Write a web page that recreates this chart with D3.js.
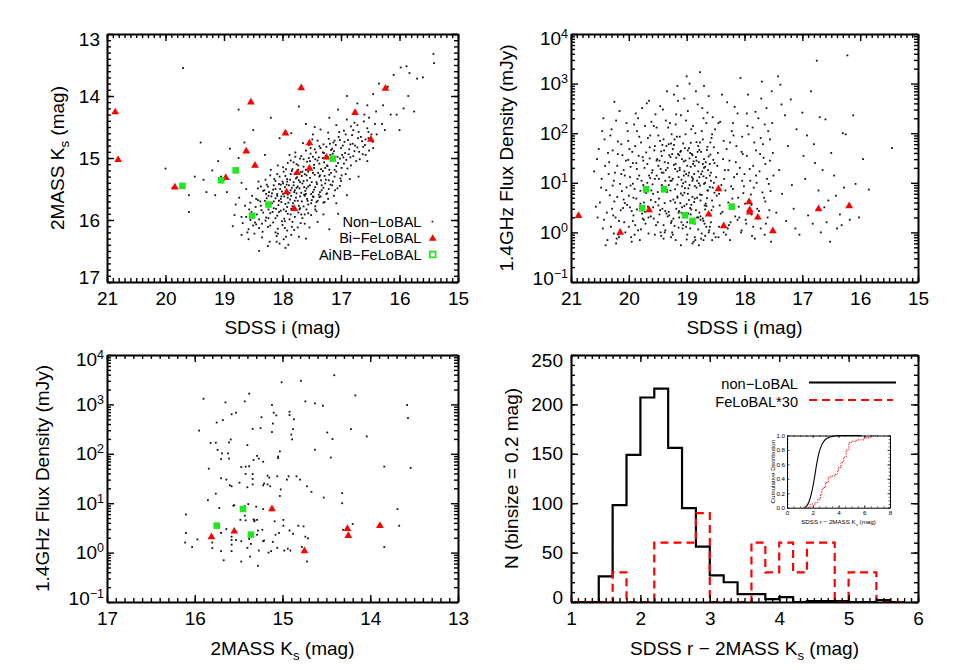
<!DOCTYPE html>
<html>
<head>
<meta charset="utf-8">
<script src="https://cdn.jsdelivr.net/npm/d3@7"></script>
<style>
  body { margin: 0; background: #fff; }
</style>
</head>
<body>
<svg id="fig" width="954" height="670"></svg>
<script>
// ---- data ----
// panel 1: SDSS i vs 2MASS Ks
var nonLobalIK = [
  [16.42,14.45],[16.55,14.52],[16.61,14.41],[16.70,14.58],[16.83,14.49],[16.95,14.56],[17.08,14.47],[17.22,14.59],[16.48,14.62],[16.66,14.66],[16.77,14.43],[16.90,14.38],[17.35,14.54],[16.52,14.35],[16.58,14.70],[17.48,14.62],
  [16.46,14.74],[16.59,14.79],[16.71,14.68],[16.80,14.77],[16.88,14.71],[16.97,14.80],[17.04,14.66],[17.13,14.75],[17.21,14.69],[17.30,14.78],[17.40,14.72],[17.55,14.79],[16.64,14.73],[16.92,14.62],[17.09,14.79],[16.76,14.80],[17.65,14.76],[16.53,14.68],
  [16.52,14.88],[16.63,14.94],[16.72,14.83],[16.79,14.97],[16.86,14.86],[16.93,14.92],[17.00,14.84],[17.06,14.98],[17.12,14.89],[17.18,14.95],[17.25,14.82],[17.31,14.91],[17.38,14.99],[17.45,14.86],[17.52,14.93],[17.60,14.88],[17.68,14.97],[17.78,14.91],[16.98,14.95],[17.15,14.85],[17.35,14.84],[17.48,14.98],[16.69,14.90],[16.84,14.99],[17.88,14.95],[17.22,14.99],
  [16.74,15.05],[16.83,15.12],[16.91,15.03],[16.99,15.16],[17.05,15.08],[17.11,15.19],[17.17,15.02],[17.23,15.13],[17.29,15.07],[17.34,15.18],[17.40,15.04],[17.46,15.11],[17.52,15.17],[17.58,15.06],[17.64,15.14],[17.70,15.01],[17.76,15.10],[17.83,15.18],[17.91,15.08],[17.99,15.15],[18.08,15.12],[17.02,15.01],[17.20,15.19],[17.37,15.09],[17.55,15.00],[17.73,15.19],[17.27,15.16],[16.95,15.09],[17.60,15.19],[17.44,15.02],[17.86,15.04],
  [16.92,15.26],[17.01,15.33],[17.08,15.22],[17.14,15.38],[17.20,15.27],[17.26,15.35],[17.31,15.21],[17.37,15.30],[17.42,15.39],[17.48,15.24],[17.53,15.32],[17.59,15.28],[17.64,15.37],[17.69,15.23],[17.75,15.31],[17.81,15.39],[17.86,15.26],[17.92,15.34],[17.98,15.22],[18.05,15.30],[18.12,15.37],[18.21,15.28],[18.29,15.35],[17.17,15.24],[17.34,15.36],[17.50,15.39],[17.67,15.29],[17.84,15.21],[18.00,15.38],[17.45,15.27],[17.72,15.36],[17.28,15.29],[17.56,15.22],[17.95,15.29],[17.11,15.30],[17.79,15.25],
  [17.02,15.45],[17.10,15.52],[17.18,15.43],[17.24,15.57],[17.30,15.48],[17.36,15.55],[17.41,15.42],[17.46,15.51],[17.51,15.58],[17.56,15.46],[17.61,15.53],[17.66,15.41],[17.71,15.49],[17.76,15.57],[17.81,15.44],[17.86,15.52],[17.91,15.59],[17.96,15.47],[18.01,15.54],[18.06,15.42],[18.12,15.50],[18.18,15.57],[18.25,15.46],[18.33,15.53],[18.42,15.49],[17.21,15.50],[17.38,15.59],[17.53,15.44],[17.68,15.56],[17.84,15.48],[17.99,15.41],[18.15,15.44],[17.27,15.41],[17.44,15.47],[17.63,15.59],[17.79,15.52],[17.93,15.43],[18.09,15.58],[17.48,15.55],[17.74,15.46],[18.04,15.50],[18.28,15.58],[17.33,15.52],[17.59,15.49],[17.88,15.56],
  [17.22,15.66],[17.30,15.72],[17.37,15.63],[17.44,15.78],[17.50,15.68],[17.56,15.75],[17.62,15.61],[17.67,15.70],[17.72,15.77],[17.77,15.64],[17.82,15.73],[17.87,15.67],[17.92,15.79],[17.97,15.62],[18.02,15.71],[18.07,15.76],[18.12,15.65],[18.18,15.73],[18.24,15.61],[18.30,15.69],[18.37,15.77],[18.45,15.66],[18.55,15.72],[17.48,15.62],[17.64,15.78],[17.79,15.69],[17.95,15.74],[18.09,15.61],[18.22,15.78],[17.58,15.66],[17.85,15.61],[18.03,15.66],[17.40,15.69],[17.70,15.62],[18.15,15.70],[17.90,15.72],
  [17.42,15.86],[17.51,15.92],[17.59,15.83],[17.66,15.97],[17.73,15.88],[17.79,15.95],[17.85,15.82],[17.91,15.90],[17.97,15.98],[18.03,15.85],[18.09,15.93],[18.15,15.81],[18.21,15.89],[18.28,15.96],[18.36,15.84],[18.44,15.91],[18.53,15.87],[18.62,15.95],[17.70,15.81],[17.88,15.99],[18.06,15.87],[18.24,15.83],[17.62,15.91],[17.94,15.86],[18.12,15.97],[18.40,15.99],
  [17.62,16.06],[17.74,16.12],[17.83,16.03],[17.92,16.17],[18.00,16.08],[18.08,16.14],[18.16,16.04],[18.25,16.11],[18.34,16.19],[18.45,16.07],[18.58,16.15],[17.96,16.02],[18.12,16.20],[18.29,16.01],[17.80,16.16],[18.40,16.13],
  [17.85,16.24],[17.98,16.31],[18.10,16.26],[18.22,16.35],[18.35,16.28],[18.05,16.38],[17.72,16.27],[18.48,16.22],
  [17.33,15.44],[17.87,15.35],[18.19,15.62],[17.14,14.93],[17.71,15.83],[18.38,15.70],[17.46,15.16],[17.02,14.71],[18.01,16.02],[17.58,15.36],[17.25,15.58],[18.27,15.43],[17.81,15.07],[16.87,14.94],[17.69,16.05],[18.47,16.04],[17.39,15.24],[18.11,15.82],[17.52,14.84],[17.94,15.18],[16.99,15.28],[18.33,15.88],[17.63,15.47],[17.17,14.87],[18.06,15.69],[17.77,15.33],[17.42,15.71],[16.81,14.63],[18.21,16.09],[17.56,15.89],[17.08,15.13],[17.91,15.64],[18.41,15.38],[17.29,14.92],[17.84,16.11],[17.66,15.22],[16.94,14.74],[18.16,15.51],[17.47,15.63],[18.52,15.61],
  [17.21,15.36],[17.98,15.83],[17.37,14.81],[18.09,15.26],[16.77,14.89],[17.74,15.69],[18.24,15.97],[17.11,14.72],[17.60,15.58],[17.89,15.44],[18.35,16.06],[17.53,15.05],[17.06,15.49],[18.03,15.43],[17.68,15.91],[17.24,15.12],[18.46,15.79],[17.80,15.55],[16.96,14.99],[18.14,15.34],[17.35,15.62],[17.96,16.13],[17.49,14.70],[18.27,15.65],[17.15,15.44],[17.73,15.12],[18.57,15.83],[17.44,15.83],[17.03,14.58],[17.86,15.91],
  [18.20,15.19],[17.62,15.26],[16.89,15.17],[17.99,15.58],[18.31,15.52],[17.28,15.71],[17.78,14.98],[18.42,15.68],[17.57,15.69],[16.84,14.78],[18.08,16.22],[17.36,15.28],[17.92,15.38],[17.19,14.77],[18.50,16.09],[17.70,15.39],[17.12,15.61],[18.17,15.87],[17.64,15.02],[17.83,15.78],[18.37,15.46],[17.43,14.91],[17.00,15.37],[18.02,15.62],[17.51,15.73],[16.79,14.55],[17.94,16.27],[18.23,15.55],[17.31,15.00],[17.76,15.48],
  [18.64,15.77],[18.58,16.31],[18.68,16.05],[16.62,14.82],[16.68,15.02],[16.85,15.34],[17.08,15.73],[17.30,15.91],[16.53,14.58],[16.39,14.62],[18.74,15.64],[18.82,15.92],[17.54,16.12],[17.40,16.03],[18.70,16.24],[16.58,14.95],[16.45,14.84],[18.25,16.42],[17.95,16.45],[16.72,14.47],
  [15.42,13.32],[15.41,13.47],[15.60,13.70],[15.83,13.63],[15.88,13.52],[15.98,13.54],[16.10,13.66],[16.20,13.85],[16.35,13.80],[16.28,14.15],[16.15,14.30],[16.05,14.30],[16.00,14.55],[15.93,14.20],[15.75,14.25],[15.85,14.00],[16.45,13.97],[16.55,14.15],[16.40,14.25],[16.60,14.30],[16.72,14.12],[16.90,14.00],[17.05,14.22],[17.20,14.35],[16.30,14.45],[16.25,14.55],[17.45,14.50],[17.60,14.45],[17.72,14.17],[15.70,13.72],
  [19.70,13.55],[18.75,14.22],[18.20,14.35],[18.50,14.55],[18.65,14.75],[18.90,14.85],[18.30,14.95],[18.05,14.68],[17.85,14.60],[19.40,14.75],[19.10,15.05],[19.20,15.20],[19.05,15.30],[19.35,15.35],[19.50,15.30],[20.00,15.17],[19.60,15.60],[19.88,15.48],[19.15,15.60],[19.60,15.87],[19.30,15.55],[18.95,15.55],[18.80,15.75],[18.85,16.10],[18.70,15.40],[18.75,15.00],[18.60,16.20],[18.40,16.50],[18.10,16.35],[17.90,16.40],[17.60,16.30],[17.20,16.15],[17.05,15.90],[16.90,15.60],[16.70,15.30],[16.55,15.05],[18.55,16.00],[18.62,15.50],[18.70,15.95],[19.00,15.35]
];
var biFeIK = [
  [20.86,14.26],[20.81,15.03],[19.84,15.47],[18.54,14.10],[17.68,13.87],[17.95,14.60],[18.62,14.89],[18.47,15.12],[18.97,15.32],
  [17.54,14.76],[16.76,14.27],[16.24,13.88],[16.49,14.70],[17.25,14.99],[17.75,15.24],[17.54,15.17],[17.93,15.55],[17.80,15.82]
];
var aiNBIK = [[19.71,15.45],[19.05,15.36],[18.80,15.20],[18.24,15.75],[18.52,15.93],[17.14,15.01]];

// panel 2: SDSS i vs 1.4GHz flux (mJy)
var nonLobalIF = [
  [20.55,30],[20.48,8],[20.42,75],[20.38,2.5],[20.35,15],[20.31,1.3],[20.28,45],[20.25,4.2],[20.22,180],[20.2,22],[20.18,0.9],[20.15,9.5],[20.13,60],[20.1,3.1],[20.08,1.6],[20.05,28],[20.02,110],[20.0,5.5],[19.98,13],[19.96,0.8],[19.94,42],[19.92,2.2],[19.9,7.5],[19.88,250],[19.86,19],[19.84,1.1],[19.82,85],[19.8,3.8],[19.78,11],[19.76,33],[19.74,1.8],[19.72,140],[19.7,6.2],[19.68,24],[19.66,0.95],[19.64,52],[19.62,4.5],[19.6,16],
  [20.45,1.2],[20.4,0.55],[20.33,5.6],[20.3,120],[20.26,11],[20.23,2.0],[20.19,38],[20.16,280],[20.12,6.8],[20.09,18],[20.06,1.0],[20.03,3.6],[20.01,70],[19.97,8.8],[19.95,2.7],[19.93,25],[19.91,150],[19.89,1.4],[19.87,4.8],[19.85,12],[19.83,35],[19.81,0.7],[19.79,65],[19.77,2.4],[19.75,9],[19.73,20],[19.71,1.5],[19.69,400],[19.67,3.3],[19.65,14],[19.63,90],[19.61,7],
  [20.5,4],[20.36,40],[20.21,0.75],[20.14,2.8],[20.07,14],[19.99,48],[19.92,5],[19.84,200],[19.76,1.9],[19.68,10],[20.6,17],[20.44,200],[20.29,3.0],[20.17,1.7],[20.04,8.1],[19.9,0.9],[19.75,28],[19.62,2.1],[20.22,0.6],[19.95,0.65],
  [20.57,3.3],[20.52,48],[20.47,12],[20.43,1.8],[20.39,7.1],[20.34,26],[20.32,90],[20.27,2.2],[20.24,16],[20.2,5.2],[20.17,0.8],[20.11,36],[20.07,3.9],[20.04,160],[20.0,1.3],[19.97,21],[19.93,9.6],[19.89,55],[19.86,2.9],[19.82,14],[19.79,1.15],[19.77,320],[19.73,6.6],[19.7,41],[19.66,2.0],[19.63,12.5],[19.61,170],
  [20.41,22],[20.37,0.7],[20.28,8.8],[20.19,68],[20.09,4.6],[20.01,29],[19.93,1.7],[19.86,110],[19.8,6.9],[19.72,2.6],[19.67,80],[20.54,2.0],[20.46,110],[20.26,0.95],[20.13,15],[19.98,3.2],[19.87,25],[19.74,4.0],[19.64,31],
  [19.58,3.2],[19.56,45],[19.55,12],[19.53,1.4],[19.52,130],[19.5,6.5],[19.49,22],[19.47,2.3],[19.46,70],[19.44,0.85],[19.43,9],[19.41,300],[19.4,16],[19.38,3.9],[19.37,1.1],[19.35,55],[19.34,7.2],[19.32,25],[19.31,2.6],[19.29,160],[19.28,11],[19.26,1.7],[19.25,38],[19.23,4.6],[19.22,600],[19.2,19],[19.19,0.7],[19.17,85],[19.16,5.3],[19.14,13],[19.13,2.0],[19.11,42],[19.1,230],[19.08,8.5],[19.07,1.2],[19.05,27],[19.04,3.4],[19.02,95],[19.01,15],[18.99,0.9],[18.98,6],[18.96,50],[18.95,1000],[18.93,21],[18.92,2.9],[18.9,11],[18.89,140],[18.87,4.1],[18.86,1.5],[18.84,33],[18.83,8],[18.81,380],[18.8,17],[18.78,2.5],[18.77,65],[18.75,0.75],[18.74,5.7],[18.72,24],[18.71,200],[18.69,3.5],[18.68,10],[18.66,1.3],[18.65,46],[18.63,7],[18.62,560],[18.6,14],[18.59,2.2],[18.57,80],[18.56,4.4],[18.54,29],[18.53,0.95],[18.51,120],
  [19.59,18],[19.57,1.9],[19.54,240],[19.51,30],[19.48,4.8],[19.45,1.0],[19.42,58],[19.39,8.2],[19.36,180],[19.33,2.1],[19.3,36],[19.27,0.8],[19.24,12],[19.21,75],[19.18,3.0],[19.15,450],[19.12,20],[19.09,1.6],[19.06,62],[19.03,7.8],[19.0,1400],[18.97,2.4],[18.94,40],[18.91,13],[18.88,0.65],[18.85,100],[18.82,5.0],[18.79,26],[18.76,1.8],[18.73,320],[18.7,9.5],[18.67,3.8],[18.64,53],[18.61,1.1],[18.58,16],[18.55,210],[18.52,6.3],
  [19.58,6],[19.55,0.9],[19.52,14],[19.49,90],[19.46,2.8],[19.43,35],[19.4,1.4],[19.37,11],[19.34,700],[19.31,60],[19.28,4.3],[19.25,1.0],[19.22,23],[19.19,150],[19.16,9.2],[19.13,2.7],[19.1,44],[19.07,5.6],[19.04,17],[19.01,1.3],[18.98,280],[18.95,31],[18.92,3.6],[18.89,12],[18.86,0.8],[18.83,66],[18.8,2.0],[18.77,8.8],[18.74,110],[18.71,1.7],[18.68,21],[18.65,4.9],[18.62,1.0],[18.59,37],[18.56,0.7],[18.53,10],
  [19.45,19],[19.38,26],[19.3,13],[19.24,48],[19.18,32],[19.12,18],[19.06,9.8],[19.02,28],[18.97,14],[18.93,64],[18.9,36],[18.86,22],[18.82,11],[18.78,46],[18.75,15],[18.7,30],[18.66,12.5],[18.6,24],[18.55,8],[19.2,7.4],[19.08,3.2],[18.96,4.5],[18.84,2.8],[18.72,1.9],[19.35,2.4],[19.27,1.55],[19.14,1.25],[19.0,0.72],[18.9,0.6],[18.8,1.15],[18.68,0.85],[18.58,1.6],[19.1,0.55],[19.4,0.75],
  [19.59,9.3],[19.57,140],[19.54,4.1],[19.52,28],[19.5,1.6],[19.48,12],[19.46,350],[19.44,43],[19.42,3.0],[19.4,75],[19.38,1.0],[19.36,18],[19.34,6.5],[19.32,130],[19.3,2.2],[19.28,33],[19.26,11],[19.24,0.9],[19.22,58],[19.2,4.0],[19.18,240],[19.16,17],[19.14,2.5],[19.12,85],[19.1,6.1],[19.08,30],[19.06,1.4],[19.04,500],[19.02,10.5],[19.0,3.7],[18.98,45],[18.96,16],[18.94,1.2],[18.92,120],[18.9,5.2],[18.88,27],[18.86,8.6],[18.84,700],[18.82,2.0],[18.8,55],[18.78,13],[18.76,4.4],[18.74,0.95],[18.72,75],[18.7,20],[18.68,2.9],[18.66,160],[18.64,7.0],[18.62,34],[18.6,1.3],[18.58,11],[18.56,95],[18.54,3.3],[18.52,25],[18.5,0.8],
  [19.55,55],[19.49,3.5],[19.43,16],[19.37,2.7],[19.31,9],[19.26,95],[19.21,1.35],[19.15,38],[19.11,3.9],[19.05,14],[19.01,180],[18.97,7.7],[18.93,2.3],[18.89,24],[18.85,0.7],[18.81,42],[18.77,5.8],[18.73,17],[18.69,1.5],[18.64,260],[18.6,8.2],[18.57,2.8],[18.53,52],
  [19.47,28],[19.39,45],[19.33,20],[19.27,62],[19.19,24],[19.13,36],[19.09,11.5],[19.03,50],[18.99,22],[18.95,9.0],[18.91,38],[18.87,15],[18.83,28],[18.79,9.8],[18.75,42],[18.71,13.5],[18.67,26],[18.63,18],[18.59,65],[19.28,7.0],[19.16,5.0],[19.04,6.3],[18.94,3.1],[18.86,4.8],[18.76,2.1],[18.66,3.4],[19.23,1.9],[19.09,2.5],[18.99,1.6],[18.87,1.9],[18.79,0.55],[18.71,0.7],
  [18.48,5.5],[18.46,40],[18.44,1.3],[18.42,170],[18.4,9],[18.38,2.6],[18.36,70],[18.34,18],[18.32,0.9],[18.3,420],[18.28,4.0],[18.26,28],[18.24,1.6],[18.22,110],[18.2,7.5],[18.18,13],[18.16,2.1],[18.14,55],[18.12,250],[18.1,3.3],[18.08,20],[18.06,1.0],[18.04,85],[18.02,6.2],[18.0,15],[17.98,1.8],[17.96,35],[17.94,600],[17.92,4.5],[17.9,11],[17.88,2.3],[17.86,130],[17.84,8],[17.82,0.75],[17.8,45],[17.78,3.0],[17.76,200],[17.74,17],[17.72,1.2],[17.7,1100],[17.68,60],[17.66,5.0],[17.64,24],[17.62,320],[17.6,2.0],[17.58,9.5],[17.56,75],[17.54,0.65],[17.52,160],[17.5,14],
  [18.47,22],[18.43,3.5],[18.39,600],[18.35,12],[18.31,48],[18.27,1.4],[18.23,8.5],[18.19,90],[18.15,26],[18.11,5.0],[18.07,1300],[18.03,38],[17.99,3.8],[17.95,140],[17.91,19],[17.87,0.85],[17.83,65],[17.79,10],[17.75,2.7],[17.71,500],[17.67,32],[17.63,1.5],[17.59,110],[17.55,6.8],[17.51,40],[18.45,0.8],[18.25,0.7],[18.05,1.1],[17.85,1.3],[17.65,0.9],
  [18.49,13],[18.45,160],[18.41,2.4],[18.37,30],[18.33,7.0],[18.29,1.2],[18.25,65],[18.21,4.8],[18.17,340],[18.13,15],[18.09,2.0],[18.05,42],[18.01,8.5],[17.97,1.5],[17.93,95],[17.89,5.8],[17.85,22],[17.81,270],[17.77,1.9],[17.73,38],[17.69,6.4],[17.65,150],[17.61,12],[17.57,2.8],[17.53,700],[18.44,6.0],[18.36,1.0],[18.28,18],[18.2,160],[18.12,1.8],[18.04,11],[17.96,250],[17.88,3.6],[17.8,14],[17.72,80],[17.64,4.2],[17.56,28],
  [17.45,2.5],[17.42,1400],[17.4,18],[17.38,950],[17.35,6],[17.3,230],[17.28,1.7],[17.25,55],[17.2,480],[17.18,9],[17.15,3.0],[17.1,120],[17.05,0.9],[17.0,260],[16.98,35],[16.95,12],[16.9,2.2],[16.85,700],[16.82,1.5],[16.8,60],[16.75,2900],[16.72,7],[16.7,210],[16.68,1.0],[16.65,18],[16.62,3.2],[16.6,190],[16.55,4.4],[16.52,0.65],[16.5,40],[16.45,14],[16.4,1.2],[16.35,2.3],[16.3,100],[16.28,8],[16.22,3700],[16.18,1.8],[16.12,230],[16.08,9.5],[16.02,2.0],[15.95,30],[15.85,7.3],[15.45,50],[17.36,380],[17.12,1.2],[16.92,90],[16.78,25],[16.58,1.6],[16.42,5.5],[16.32,1.4],[16.25,95],
  [18.77,1700],[19.16,900],[18.7,900],[19.65,450],[20.25,430]
];
var biFeIF = [
  [20.87,2.17],[20.15,1.0],[19.65,2.83],[18.45,7.5],[18.62,2.31],[18.36,1.35],[17.92,4.1],
  [17.91,2.83],[17.91,2.54],[17.77,2.01],[17.51,1.07],[16.72,2.96],[16.19,3.41]
];
var aiNBIF = [[19.70,7.4],[19.39,7.4],[19.77,3.06],[19.03,2.21],[18.90,1.70],[18.22,3.30]];

// panel 3: 2MASS Ks vs 1.4GHz flux (mJy)
var nonLobalKF = [
  [14.41,3900],[15.01,2800],[14.79,3000],[15.90,1300],[15.38,1650],[15.43,1150],[15.65,1100],[15.12,970],[14.74,1150],[14.63,1050],[14.54,940],[14.17,1520],[13.58,970],[13.57,530],[15.10,680],[15.07,600],[14.92,710],[14.92,610],[14.87,500],[15.24,550],[15.25,330],[15.34,320],[15.11,410],[15.12,276],[15.58,630],[15.53,680],[15.68,480],[15.75,430],[15.95,295],[15.59,195],[15.61,170],[15.82,165],[15.76,168],[15.74,120],[15.69,102],[15.62,102],[15.61,80],[15.70,78],[15.84,50],[15.40,150],
  [15.29,91],[15.27,80],[15.22,69],[15.33,75],[15.42,55],[15.38,56],[15.47,54],[15.42,39],[15.34,39],[15.15,33],[15.17,36],[15.06,35],[15.05,88],[15.03,112],[15.05,82],[14.90,245],[14.89,196],[14.88,315],[14.63,121],[14.49,270],[14.43,200],[14.45,84],[14.22,316],[14.04,225],[13.84,55],[13.54,52],
  [14.93,35],[14.84,35],[14.95,30],[14.80,30],[14.72,22],[14.67,17],[14.53,13],[14.32,16],[14.32,10],[15.02,19],[15.21,25],[15.22,23],[15.34,31],[15.40,21],[15.64,30],[15.60,23],[15.58,22],[15.70,32],[15.76,15.6],[15.85,11.5],[15.72,8],[15.56,8.9],[15.55,9.1],[15.39,9.6],
  [15.43,5.6],[15.48,4.6],[15.42,4.5],[15.32,4.5],[15.33,4.7],[15.22,7.6],[15.09,4.3],[14.99,3.5],[15.23,2.9],[15.28,2.8],[15.29,2.3],[15.22,1.7],[15.21,1.75],[15.11,1.65],[15.08,2.3],[15.04,2.5],[14.99,4.6],[14.92,2.8],[14.98,1.1],[14.91,1.1],[14.94,1.2],[15.06,1.25],[15.13,1.07],[15.16,1.0],[15.27,1.1],[15.36,1.5],[15.40,1.25],[15.47,1.7],[15.58,1.8],[15.58,1.45],[15.58,1.07],[15.70,1.07],[15.67,0.7],[15.47,0.66],[15.37,0.83],[15.28,0.54],
  [15.80,1.23],[15.80,1.6],[16.11,1.6],[16.10,2.5],[16.10,5.9],[15.97,1.85],[16.03,1.3],[15.70,2.5],[15.64,3.0],[15.58,2.1],[15.53,1.8],[15.38,1.9],[15.32,4.3],[14.82,3.5],[14.76,3.4],[14.74,2.1],[14.71,1.95],[14.72,0.66],[14.88,2.4],[14.78,1.3],[14.20,3.8],[14.31,2.9],[13.69,7.6],[13.67,3.5],[13.84,1.3],[15.43,8.7],[15.49,26],[15.30,8.5],[15.29,4.6],[15.17,24],[15.03,14],[15.14,22],[15.34,24]
];
var biFeKF = [[15.81,2.07],[15.55,2.69],[15.12,7.64],[14.75,1.08],[14.26,3.05],[14.25,2.20],[13.89,3.51]];
var aiNBKF = [[15.75,3.51],[15.45,7.64],[15.36,2.31]];

// panel 4: SDSS r - 2MASS Ks histograms, bin size 0.2
var binLeft = [1.0,1.2,1.4,1.6,1.8,2.0,2.2,2.4,2.6,2.8,3.0,3.2,3.4,3.6,3.8,4.0,4.2,4.4,4.6,4.8,5.0,5.2,5.4,5.6];
var nonLobalHist = [0,0,26,98,149,207,216,156,95,56,27,20,8,8,3,5,0,1,1,1,0,0,2,0];
var feLobalHist30 = [0,0,0,30,0,0,60,60,60,90,0,0,0,60,30,60,30,60,60,0,30,30,0,0];
// inset cumulative distributions
var cdfNon = [[1.3,0],[1.5,0.02],[1.7,0.08],[1.9,0.2],[2.1,0.38],[2.3,0.6],[2.5,0.77],[2.7,0.87],[2.9,0.93],[3.2,0.97],[3.6,0.99],[4.0,1.0],[5.0,1.0],[5.8,1.0]];
var cdfFe = [[1.65,0],[1.8,0.05],[2.2,0.07],[2.4,0.12],[2.6,0.18],[2.7,0.25],[2.8,0.28],[3.0,0.35],[3.2,0.42],[3.4,0.44],[3.7,0.46],[3.9,0.5],[4.0,0.56],[4.2,0.63],[4.4,0.7],[4.6,0.8],[4.8,0.9],[5.0,0.92],[5.4,0.94],[6.0,0.97],[6.5,1.0],[6.9,1.0]];

// tick labels
var iMagTicks = [21,20,19,18,17,16,15];
var ksTicksTop = [13,14,15,16,17];
var fluxExp = [-1,0,1,2,3,4];
var ksTicksBottom = [17,16,15,14,13];
var colorTicks = [1,2,3,4,5,6];
var countTicks = [0,50,100,150,200,250];
var insetXTicks = [0,2,4,6,8];
var insetYTicks = [0,0.2,0.4,0.6,0.8,1.0];

// ---- drawing ----
var FONT = "'Liberation Sans', Arial, Helvetica, sans-serif";
var RED = "#ff0000", GREEN = "#22e622";
var svg = d3.select("#fig");

function drawAxes(x, y, o){
  var xr = x.range(), yr = y.range();
  var left = Math.min(xr[0],xr[1]), right = Math.max(xr[0],xr[1]);
  var top = Math.min(yr[0],yr[1]), bot = Math.max(yr[0],yr[1]);
  var g = svg.append("g");
  var sides = [
    ["bottom", "translate(0,"+bot+")", true],
    ["top", "translate(0,"+top+")", false],
    ["left", "translate("+left+",0)", true],
    ["right", "translate("+right+",0)", false]
  ];
  function mk(side){
    return side=="bottom" ? d3.axisBottom(x) : side=="top" ? d3.axisTop(x) : side=="left" ? d3.axisLeft(y) : d3.axisRight(y);
  }
  sides.forEach(function(s){
    var isX = (s[0]=="bottom" || s[0]=="top");
    // minor ticks
    g.append("g").attr("transform", s[1])
      .call(mk(s[0]).tickValues(isX ? o.xMinor : o.yMinor).tickSize(-o.minorLen).tickSizeOuter(0).tickFormat(""))
      .call(function(a){ a.select(".domain").remove(); a.selectAll("line").attr("stroke-width", o.tickW); });
    // major ticks, labels and frame side
    var ax = mk(s[0]).tickValues(isX ? o.xMajor : o.yMajor).tickSize(-o.majorLen).tickSizeOuter(0)
      .tickPadding(isX ? o.xPad : o.yPad)
      .tickFormat(isX ? o.xFmt : o.yFmt);
    var a = g.append("g").attr("transform", s[1]).call(ax)
      .attr("font-family", FONT).attr("font-size", o.fs);
    a.select(".domain").attr("stroke-width", o.frameW);
    a.selectAll(".tick line").attr("stroke-width", o.tickW);
    if(!s[2]){ a.selectAll(".tick text").remove(); return; }
    if(!isX){
      a.selectAll(".tick text").attr("y", function(d){
        var p = y(d);
        return Math.abs(p-top)<0.5 ? o.edge : (Math.abs(p-bot)<0.5 ? -o.edge : 0);
      });
      if(o.yLog){
        a.selectAll(".tick text").each(function(d){
          var t = d3.select(this).text("");
          var e = Math.round(Math.log10(d));
          t.append("tspan").text("10");
          t.append("tspan").attr("dy","-0.55em").attr("font-size","0.66em").text(e<0 ? "\u2212"+(-e) : e);
        });
      }
    }
  });
  return g;
}

function addText(x, y, parts, fs, rot, anchor){
  var t = svg.append("text").attr("font-family", FONT).attr("font-size", fs)
    .attr("text-anchor", anchor || "middle");
  if(rot) t.attr("transform","translate("+x+","+y+") rotate(-90)");
  else t.attr("x", x).attr("y", y);
  parts.forEach(function(p){
    var s = t.append("tspan").text(p[0]);
    if(p[1]) s.attr("font-size", p[1]);
    if(p[2]) s.attr("dy", p[2]);
  });
  return t;
}
function ksParts(sz){ return [["2MASS K"],["s", sz*0.7, sz*0.28],[" (mag)", null, -sz*0.28]]; }

function dots(data, x, y){
  svg.append("g").selectAll("rect").data(data).join("rect")
    .attr("x", function(d){ return x(d[0])-0.9; })
    .attr("y", function(d){ return y(d[1])-0.9; })
    .attr("width", 1.8).attr("height", 1.8).attr("fill", "#111");
}
function triangles(data, x, y){
  svg.append("g").selectAll("path").data(data).join("path")
    .attr("d", d3.symbol(d3.symbolTriangle, 26))
    .attr("transform", function(d){ return "translate("+x(d[0])+","+y(d[1])+")"; })
    .attr("fill", RED);
}
function squares(data, x, y){
  svg.append("g").selectAll("rect").data(data).join("rect")
    .attr("x", function(d){ return x(d[0])-3.3; })
    .attr("y", function(d){ return y(d[1])-3.3; })
    .attr("width", 6.6).attr("height", 6.6).attr("fill", GREEN);
}

var FR = { tl:[107,458,34,282], tr:[571,918,34,282], bl:[107,458,355,602], br:[571,918,355,602] };
var tenths = function(a,b){ return d3.range(Math.round(a*10), Math.round(b*10)+1).map(function(v){ return v/10; }); };
var logMinor = [];
fluxExp.slice(0,-1).forEach(function(e){ d3.range(2,10).forEach(function(m){ logMinor.push(m*Math.pow(10,e)); }); });
var fluxTicks = fluxExp.map(function(e){ return Math.pow(10,e); });

var common = { majorLen:7, minorLen:4, tickW:1.4, frameW:2, fs:19, xPad:9.5, edge:5 };

// panel 1
var x1 = d3.scaleLinear().domain([21,15]).range([FR.tl[0],FR.tl[1]]);
var y1 = d3.scaleLinear().domain([13,17]).range([FR.tl[2],FR.tl[3]]);
dots(nonLobalIK, x1, y1);
triangles(biFeIK, x1, y1);
squares(aiNBIK, x1, y1);
drawAxes(x1, y1, Object.assign({}, common, { xMajor:iMagTicks, xMinor:tenths(15,21), yMajor:ksTicksTop, yMinor:tenths(13,17),
  xFmt:d3.format("d"), yFmt:d3.format("d"), yPad:7 }));
addText(282.5, 334, [["SDSS i (mag)"]], 19);
addText(64, 158, ksParts(19), 19, true);
// legend
addText(421.5, 226.9, [["Non\u2212LoBAL"]], 14.6, false, "end");
addText(421.5, 243.2, [["Bi\u2212FeLoBAL"]], 14.6, false, "end");
addText(421.5, 259.7, [["AiNB\u2212FeLoBAL"]], 14.6, false, "end");
svg.append("rect").attr("x", 431.6).attr("y", 220.8).attr("width", 1.6).attr("height", 1.6).attr("fill", "#111");
svg.append("path").attr("d", d3.symbol(d3.symbolTriangle, 26)).attr("transform", "translate(432.7,238.6)").attr("fill", RED);
svg.append("rect").attr("x", 429.8).attr("y", 251.6).attr("width", 5.8).attr("height", 5.8)
  .attr("fill", "none").attr("stroke", GREEN).attr("stroke-width", 1.8);

// panel 2
var x2 = d3.scaleLinear().domain([21,15]).range([FR.tr[0],FR.tr[1]]);
var y2 = d3.scaleLog().domain([0.1,1e4]).range([FR.tr[3],FR.tr[2]]);
dots(nonLobalIF, x2, y2);
triangles(biFeIF, x2, y2);
squares(aiNBIF, x2, y2);
drawAxes(x2, y2, Object.assign({}, common, { xMajor:iMagTicks, xMinor:tenths(15,21), yMajor:fluxTicks, yMinor:logMinor,
  xFmt:d3.format("d"), yFmt:String, yPad:3, yLog:true, edge:4 }));
addText(744.5, 334, [["SDSS i (mag)"]], 19);
addText(513, 158, [["1.4GHz Flux Density (mJy)"]], 19, true);

// panel 3
var x3 = d3.scaleLinear().domain([17,13]).range([FR.bl[0],FR.bl[1]]);
var y3 = d3.scaleLog().domain([0.1,1e4]).range([FR.bl[3],FR.bl[2]]);
dots(nonLobalKF, x3, y3);
triangles(biFeKF, x3, y3);
squares(aiNBKF, x3, y3);
drawAxes(x3, y3, Object.assign({}, common, { xMajor:ksTicksBottom, xMinor:tenths(13,17), yMajor:fluxTicks, yMinor:logMinor,
  xFmt:d3.format("d"), yFmt:String, yPad:3, yLog:true, edge:4 }));
addText(282.5, 655, ksParts(19), 19);
addText(49, 478.5, [["1.4GHz Flux Density (mJy)"]], 19, true);

// panel 4
var x4 = d3.scaleLinear().domain([1,6]).range([FR.br[0],FR.br[1]]);
var y4 = d3.scaleLinear().domain([0,250]).range([FR.br[3],FR.br[2]]);
var stepLine = d3.line().x(function(d){ return x4(d[0]); }).y(function(d){ return y4(d[1]); }).curve(d3.curveStepAfter);
function histPoints(vals){
  var pts = binLeft.map(function(b,i){ return [b, vals[i]]; });
  pts.push([binLeft[binLeft.length-1]+0.2, vals[vals.length-1]]);
  return pts;
}
svg.append("path").attr("d", stepLine(histPoints(nonLobalHist)))
  .attr("fill","none").attr("stroke","#000").attr("stroke-width",2.2);
svg.append("path").attr("d", stepLine(histPoints(feLobalHist30)))
  .attr("fill","none").attr("stroke",RED).attr("stroke-width",2.2).attr("stroke-dasharray","8,5");
drawAxes(x4, y4, Object.assign({}, common, { xMajor:colorTicks, xMinor:tenths(1,6), yMajor:countTicks, yMinor:d3.range(0,251,10),
  xFmt:d3.format("d"), yFmt:d3.format("d"), yPad:8, edge:5 }));
addText(744.5, 655, [["SDSS r \u2212 "]].concat(ksParts(19)), 19);
addText(518, 478.5, [["N (binsize = 0.2 mag)"]], 19, true);
// legend
addText(798, 388.5, [["non\u2212LoBAL"]], 14.6, false, "end");
addText(798, 406.9, [["FeLoBAL*30"]], 14.6, false, "end");
svg.append("line").attr("x1",809).attr("x2",896).attr("y1",382.5).attr("y2",382.5).attr("stroke","#000").attr("stroke-width",2.2);
svg.append("line").attr("x1",809).attr("x2",893).attr("y1",400).attr("y2",400).attr("stroke",RED).attr("stroke-width",2.2).attr("stroke-dasharray","8,5");

// inset
var xi = d3.scaleLinear().domain([0,8]).range([787,890]);
var yi = d3.scaleLinear().domain([0,1]).range([507.7,435.5]);
svg.append("rect").attr("x",787).attr("y",435.5).attr("width",103).attr("height",72.2).attr("fill","#fff");
var cdfLine = d3.line().x(function(d){ return xi(d[0]); }).y(function(d){ return yi(d[1]); });
svg.append("path").attr("d", cdfLine.curve(d3.curveMonotoneX)(cdfNon)).attr("fill","none").attr("stroke","#000").attr("stroke-width",1.1);
svg.append("path").attr("d", cdfLine.curve(d3.curveStepAfter)(cdfFe)).attr("fill","none").attr("stroke",RED).attr("stroke-width",1).attr("stroke-dasharray","1.2,1.2");
drawAxes(xi, yi, { majorLen:2.5, minorLen:1.4, tickW:0.7, frameW:1, fs:6.2, xPad:3, yPad:2, edge:0,
  xMajor:insetXTicks, xMinor:d3.range(0,8.01,0.5), yMajor:insetYTicks, yMinor:d3.range(0,1.001,0.05),
  xFmt:d3.format("d"), yFmt:d3.format(".1f") });
addText(838.5, 524, [["SDSS r \u2212 "]].concat(ksParts(6.2)), 6.2);
addText(774.5, 471.6, [["Cumulative Distribution"]], 6.2, true);
</script>
</body>
</html>
